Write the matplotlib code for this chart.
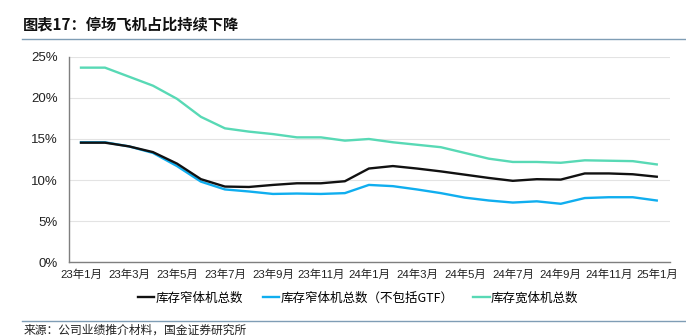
import matplotlib
matplotlib.use('Agg')
import matplotlib.pyplot as plt

plt.rcParams['font.family'] = ['Liberation Sans', 'Noto Sans CJK SC', 'DejaVu Sans']

# 月份标签（23年1月 ~ 25年1月）
months = ['23年1月', '23年2月', '23年3月', '23年4月', '23年5月', '23年6月', '23年7月',
          '23年8月', '23年9月', '23年10月', '23年11月', '23年12月', '24年1月',
          '24年2月', '24年3月', '24年4月', '24年5月', '24年6月', '24年7月',
          '24年8月', '24年9月', '24年10月', '24年11月', '24年12月', '25年1月']

# 停场占比（%）
narrow_total = [14.55, 14.55, 14.1, 13.4, 12.0, 10.1, 9.2, 9.15, 9.4, 9.6, 9.6, 9.85, 11.4,
                11.7, 11.4, 11.05, 10.65, 10.25, 9.9, 10.1, 10.05, 10.8, 10.8, 10.7, 10.4]
narrow_ex_gtf = [14.6, 14.6, 14.1, 13.3, 11.7, 9.8, 8.85, 8.6, 8.3, 8.35, 8.3, 8.4, 9.4,
                 9.25, 8.85, 8.4, 7.85, 7.5, 7.25, 7.4, 7.1, 7.8, 7.9, 7.9, 7.5]
wide_total = [23.7, 23.7, 22.6, 21.5, 19.9, 17.7, 16.3, 15.9, 15.6, 15.2, 15.2, 14.8, 15.0,
              14.6, 14.3, 14.0, 13.3, 12.6, 12.2, 12.2, 12.1, 12.4, 12.35, 12.3, 11.9]

fig = plt.figure(figsize=(6.86, 3.36), dpi=100)
ax = fig.add_axes([0.1006, 0.2202, 0.876, 0.6102])

x = range(len(months))
ax.plot(x, narrow_total, color='#111111', lw=1.7, label='库存窄体机总数', zorder=3)
ax.plot(x, narrow_ex_gtf, color='#10AEEF', lw=1.7, label='库存窄体机总数（不包括GTF）', zorder=2)
ax.plot(x, wide_total, color='#58D9B5', lw=1.7, label='库存宽体机总数', zorder=2)

ax.set_xlim(-0.5, 24.55)
ax.set_ylim(0, 25)
ax.set_yticks([0, 5, 10, 15, 20, 25])
ax.set_yticklabels(['0%', '5%', '10%', '15%', '20%', '25%'], fontsize=9.5, color='#222222')
ax.set_xticks(list(x)[::2])
ax.set_xticklabels(months[::2], fontsize=8.2, color='#222222')
ax.tick_params(length=0, pad=5)
ax.tick_params(axis='y', pad=8)
ax.grid(axis='y', color='#E3E3E3', lw=0.8)
ax.set_axisbelow(True)
for s in ['top', 'right']:
    ax.spines[s].set_visible(False)
for s in ['left', 'bottom']:
    ax.spines[s].set_color('#7F7F7F')
    ax.spines[s].set_linewidth(1.0)

fig.legend(loc='center', bbox_to_anchor=(0.522, 0.113), ncol=3, frameon=False,
           handlelength=1.3, handletextpad=0.1, columnspacing=1.6,
           prop={'family': ['Noto Sans CJK SC', 'DejaVu Sans'], 'size': 9})

# 标题与来源
fig.text(0.034, 0.928, '图表17：停场飞机占比持续下降', fontsize=11, fontweight='bold',
         family=['Noto Sans CJK SC'], va='center', ha='left', color='#111111')
fig.add_artist(plt.Line2D([0.032, 1.0], [0.884, 0.884], color='#7F9DB5', lw=1.0))
fig.add_artist(plt.Line2D([0.032, 1.0], [0.045, 0.045], color='#7F9DB5', lw=1.0))
fig.text(0.034, 0.017, '来源：公司业绩推介材料，国金证券研究所', fontsize=8.5,
         family=['Noto Sans CJK SC'], va='center', ha='left', color='#222222')

fig.savefig('out.png', dpi=100)
